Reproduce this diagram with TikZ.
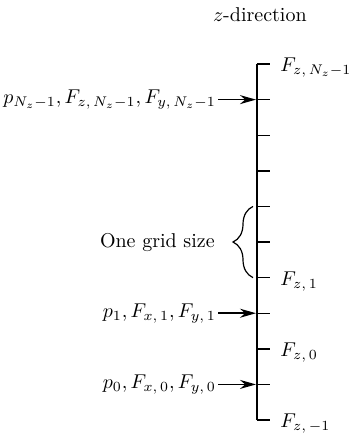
\documentclass[tikz,border=0pt]{standalone}
\usetikzlibrary{arrows.meta, positioning, decorations.pathreplacing}

\begin{document}
\begin{tikzpicture}[
  axis/.style={line width=1pt},
  tick/.style={line width=0.7pt},
  flabel/.style={inner sep=1pt, yshift=-2pt},
  plabel/.style={inner sep=1pt},
  arr/.style={->, line width=0.8pt, shorten >=0.5pt},
  >={Stealth[length=8pt, width=4.5pt]}
]
\useasboundingbox (0,0) rectangle (6.133,7.609);
\begin{scope}[shift={(4.516,0.228)}, y=0.6256cm]
% grid points along z
\foreach \i in {0,...,10}
  \coordinate (t\i) at (0,\i);
\draw[axis] (t0) -- (t10);
\foreach \i in {0,...,10}
  \draw[tick] (t\i) -- ++(0.228,0) coordinate (e\i);

\node[above=0.62cm of t10, xshift=0.05cm] (zdir) {$z$-direction};

% face values
\node[flabel, right=0.14cm of e10] (fnz) {$F_{z,\,N_z-1}$};
\node[flabel, right=0.14cm of e4]  (f1)  {$F_{z,\,1}$};
\node[flabel, right=0.14cm of e2]  (f0)  {$F_{z,\,0}$};
\node[flabel, right=0.14cm of e0]  (fm)  {$F_{z,\,-1}$};

% cell centre values
\node[plabel, left=0.68cm of t9] (pnz) {$p_{N_z-1}, F_{z,\,N_z-1}, F_{y,\,N_z-1}$};
\node[plabel, left=0.68cm of t3] (p1)  {$p_1, F_{x,\,1}, F_{y,\,1}$};
\node[plabel, left=0.68cm of t1] (p0)  {$p_0, F_{x,\,0}, F_{y,\,0}$};
\draw[arr] (pnz) -- (t9);
\draw[arr] (p1) -- (t3);
\draw[arr] (p0) -- (t1);

% grid size
\draw[decorate, decoration={brace, amplitude=10pt}, line width=0.6pt]
  ([xshift=-0.07cm]t4) -- ([xshift=-0.07cm]t6);
\coordinate (tip) at ([xshift=-0.42cm]t5);
\node[left=0.2cm of tip] (grid) {One grid size};
\end{scope}
\end{tikzpicture}
\end{document}
